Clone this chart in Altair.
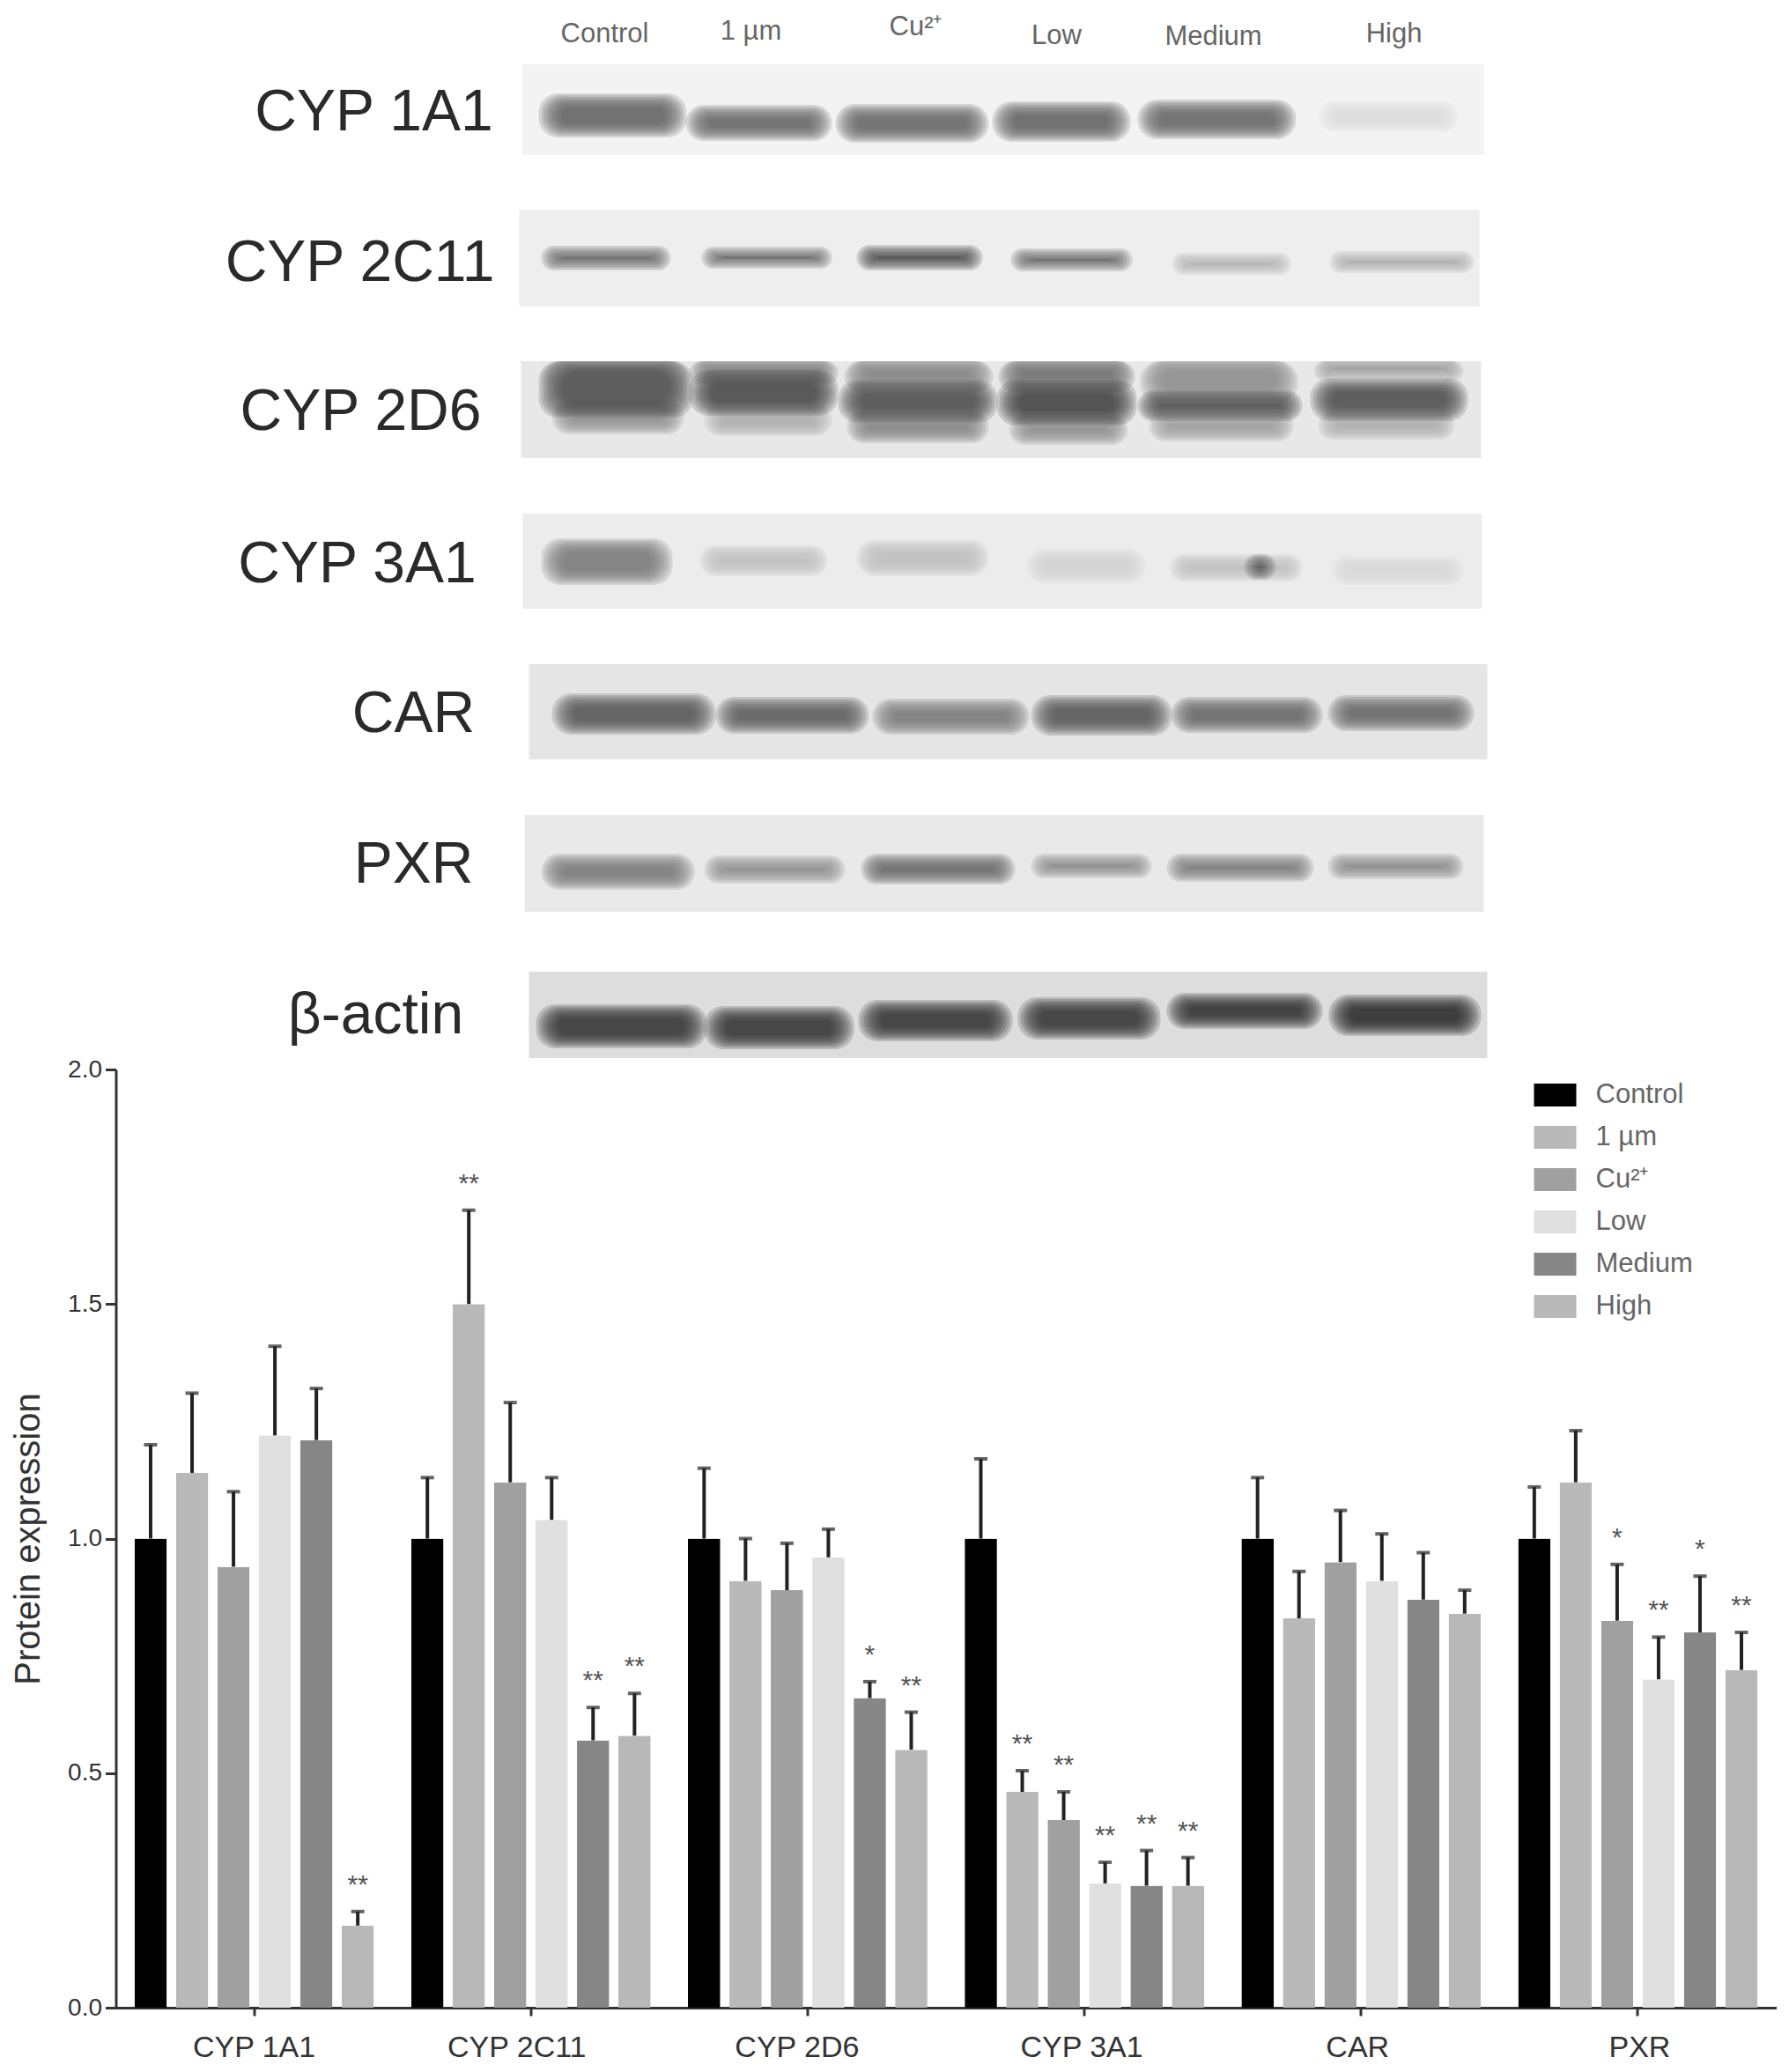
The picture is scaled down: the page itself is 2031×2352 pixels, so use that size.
import altair as alt
import pandas as pd

FONT = "Liberation Sans"

# ---- bar chart values ----
groups = ["CYP 1A1", "CYP 2C11", "CYP 2D6", "CYP 3A1", "CAR", "PXR"]
treatments = ["Control", "1 µm", "Cu²⁺", "Low", "Medium", "High"]
shades = ["#000000", "#b9b9b9", "#a0a0a0", "#e0e0e0", "#868686", "#b8b8b8"]

means = [
    [1.00, 1.14, 0.94, 1.22, 1.21, 0.175],
    [1.00, 1.50, 1.12, 1.04, 0.57, 0.58],
    [1.00, 0.91, 0.89, 0.96, 0.66, 0.55],
    [1.00, 0.46, 0.40, 0.265, 0.26, 0.26],
    [1.00, 0.83, 0.95, 0.91, 0.87, 0.84],
    [1.00, 1.12, 0.825, 0.70, 0.80, 0.72],
]
tops = [
    [1.20, 1.31, 1.10, 1.41, 1.32, 0.205],
    [1.13, 1.70, 1.29, 1.13, 0.64, 0.67],
    [1.15, 1.00, 0.99, 1.02, 0.695, 0.63],
    [1.17, 0.505, 0.46, 0.31, 0.335, 0.32],
    [1.13, 0.93, 1.06, 1.01, 0.97, 0.89],
    [1.11, 1.23, 0.945, 0.79, 0.92, 0.80],
]
stars = [
    ["", "", "", "", "", "**"],
    ["", "**", "", "", "**", "**"],
    ["", "", "", "", "*", "**"],
    ["", "**", "**", "**", "**", "**"],
    ["", "", "", "", "", ""],
    ["", "", "*", "**", "*", "**"],
]

# ---- blot image content (image pixel units) ----
row_names = ["CYP 1A1", "CYP 2C11", "CYP 2D6", "CYP 3A1", "CAR", "PXR", "β-actin"]
row_name_x = [425, 409, 410, 406, 470, 470, 427]
row_name_y = [128, 299, 468, 641, 811, 982, 1153]

panel_x0 = [593, 590, 592, 594, 601, 596, 601]
panel_x1 = [1685, 1680, 1682, 1683, 1689, 1685, 1689]
panel_y0 = [73, 238, 410, 583, 754, 925, 1103]
panel_y1 = [176, 348, 520, 691, 862, 1035, 1201]
panel_shade = ["#f3f3f3", "#eeeeee", "#e8e8e8", "#ececec", "#e5e5e5", "#e9e9e9", "#dddddd"]

lane_names = ["Control", "1 µm", "Cu²⁺", "Low", "Medium", "High"]
lane_x = [687, 853, 1040, 1200, 1378, 1583]
lane_y = [39, 36, 31, 41, 42, 39]

# row index, x0, x1, y0, y1, shade
bands = [
    (0, 620, 772, 111, 151, "#5f5f5f"), (0, 787, 937, 124, 155, "#666666"),
    (0, 957, 1115, 123, 157, "#666666"), (0, 1135, 1276, 120, 156, "#5f5f5f"),
    (0, 1300, 1464, 118, 153, "#666666"), (0, 1505, 1649, 119, 145, "#dcdcdc"),
    (1, 623, 754, 284, 302, "#666666"), (1, 805, 937, 285, 300, "#666666"),
    (1, 981, 1108, 283, 302, "#444444"), (1, 1156, 1278, 287, 303, "#666666"),
    (1, 1339, 1458, 292, 307, "#b0b0b0"), (1, 1518, 1666, 290, 305, "#aaaaaa"),
    (2, 635, 769, 459, 488, "#8a8a8a"), (2, 620, 779, 410, 469, "#4a4a4a"),
    (2, 808, 937, 463, 490, "#aaaaaa"), (2, 791, 944, 410, 432, "#777777"), (2, 791, 944, 425, 467, "#474747"),
    (2, 970, 1115, 471, 498, "#808080"), (2, 967, 1120, 410, 440, "#808080"), (2, 960, 1125, 436, 475, "#4a4a4a"),
    (2, 1154, 1273, 475, 500, "#8a8a8a"), (2, 1142, 1281, 410, 440, "#707070"), (2, 1140, 1283, 436, 478, "#3f3f3f"),
    (2, 1313, 1461, 471, 496, "#999999"), (2, 1303, 1466, 410, 452, "#8a8a8a"), (2, 1300, 1471, 448, 473, "#4a4a4a"),
    (2, 1505, 1644, 471, 494, "#aaaaaa"), (2, 1500, 1654, 410, 427, "#999999"), (2, 1496, 1659, 434, 473, "#4d4d4d"),
    (3, 623, 756, 616, 659, "#777777"), (3, 803, 932, 624, 649, "#c0c0c0"),
    (3, 981, 1115, 618, 649, "#bdbdbd"), (3, 1174, 1293, 628, 657, "#d2d2d2"),
    (3, 1337, 1471, 634, 655, "#c0c0c0"), (3, 1421, 1441, 634, 653, "#555555"),
    (3, 1520, 1654, 636, 659, "#d5d5d5"),
    (4, 635, 805, 792, 829, "#555555"), (4, 821, 979, 796, 828, "#585858"),
    (4, 999, 1161, 798, 829, "#777777"), (4, 1179, 1323, 794, 830, "#555555"),
    (4, 1338, 1494, 796, 827, "#666666"), (4, 1516, 1666, 794, 825, "#666666"),
    (5, 623, 781, 974, 1005, "#777777"), (5, 808, 952, 976, 998, "#8a8a8a"),
    (5, 986, 1145, 974, 999, "#666666"), (5, 1179, 1300, 974, 992, "#888888"),
    (5, 1333, 1484, 974, 996, "#777777"), (5, 1516, 1654, 974, 993, "#888888"),
    (6, 617, 795, 1145, 1185, "#333333"), (6, 808, 962, 1147, 1186, "#333333"),
    (6, 983, 1142, 1140, 1177, "#333333"), (6, 1164, 1310, 1137, 1175, "#333333"),
    (6, 1333, 1494, 1132, 1163, "#2f2f2f"), (6, 1517, 1674, 1134, 1171, "#2a2a2a"),
]
soft_edges = [5, 3, 1, -1, -3, -5, -7, -9, -11]

# ---- tables ----
bars = pd.DataFrame([
    {"group": g, "treatment": t, "mean": means[i][j], "top": tops[i][j], "star": stars[i][j]}
    for i, g in enumerate(groups) for j, t in enumerate(treatments)
])
panels = pd.DataFrame({"x0": panel_x0, "x1": panel_x1, "y0": panel_y0, "y1": panel_y1, "shade": panel_shade})
row_table = pd.DataFrame({"name": row_names, "x": row_name_x, "y": row_name_y})
lane_table = pd.DataFrame({"name": lane_names, "x": lane_x, "y": lane_y})

soft = []
for order, (r, x0, x1, y0, y1, shade) in enumerate(bands):
    half = (y1 - y0) / 2
    for e in soft_edges:
        ey = max(e, -half + 1.5)
        ex = e * 1.6
        soft.append({
            "order": order,
            "x0": max(x0 - ex, panel_x0[r]), "x1": min(x1 + ex, panel_x1[r]),
            "y0": max(y0 - ey, panel_y0[r]), "y1": min(y1 + ey, panel_y1[r]),
            "shade": shade,
        })
soft = pd.DataFrame(soft)

# ---- top panel: blots ----
X_DOM = alt.Scale(domain=[132, 2017])
Y_DOM = alt.Scale(domain=[1214, 8])
xq = alt.X("x0:Q", scale=X_DOM, axis=None)
yq = alt.Y("y0:Q", scale=Y_DOM, axis=None)

panel_layer = alt.Chart(panels).mark_rect().encode(
    x=xq, x2="x1:Q", y=yq, y2="y1:Q", fill=alt.Fill("shade:N", scale=None)
)
band_layer = alt.Chart(soft).mark_rect(cornerRadius=22, opacity=0.2).encode(
    x=xq, x2="x1:Q", y=yq, y2="y1:Q", fill=alt.Fill("shade:N", scale=None), order="order:Q"
)
row_text = alt.Chart(row_table).mark_text(font=FONT, fontSize=66, color="#2a2a2a").encode(
    x=alt.X("x:Q", scale=X_DOM, axis=None), y=alt.Y("y:Q", scale=Y_DOM, axis=None), text="name:N"
)
lane_text = alt.Chart(lane_table).mark_text(font=FONT, fontSize=31, color="#666666").encode(
    x=alt.X("x:Q", scale=X_DOM, axis=None), y=alt.Y("y:Q", scale=Y_DOM, axis=None), text="name:N"
)
top = alt.layer(panel_layer, band_layer, row_text, lane_text).properties(width=1885, height=1206)

# ---- bottom panel: bars ----
label_shift = (
    "datum.label === 'CYP 2C11' ? -16 : datum.label === 'CYP 2D6' ? -12 : "
    "datum.label === 'CYP 3A1' ? -3 : datum.label === 'CAR' ? -4 : "
    "datum.label === 'PXR' ? 2 : 0"
)
x_enc = alt.X(
    "group:N", sort=groups, title=None,
    scale=alt.Scale(paddingInner=0, paddingOuter=0),
    axis=alt.Axis(
        labelAngle=0, labelFont=FONT, labelFontSize=34, labelColor="#333333", labelPadding=19,
        labelOffset=alt.ExprRef(label_shift),
        domainColor="#333333", domainWidth=3, tickColor="#333333", tickWidth=3, tickSize=9, labelFlush=False,
    ),
)
off_enc = alt.XOffset(
    "treatment:N", sort=treatments,
    scale=alt.Scale(paddingInner=0.22, paddingOuter=0.45),
)
y_scale = alt.Scale(domain=[0, 2], nice=False)
y_enc = alt.Y(
    "mean:Q", scale=y_scale, title="Protein expression",
    axis=alt.Axis(
        values=[0, 0.5, 1.0, 1.5, 2.0], format=".1f", grid=False,
        labelFont=FONT, labelFontSize=28, labelColor="#333333", labelPadding=4,
        domainColor="#333333", domainWidth=3, tickColor="#333333", tickWidth=3, tickSize=12,
        titleFont=FONT, titleFontSize=40, titleFontWeight="normal", titleColor="#333333", titlePadding=24,
    ),
)
bar_layer = alt.Chart(bars).mark_bar(cornerRadius=1).encode(
    x=x_enc, xOffset=off_enc, y=y_enc,
    color=alt.Color(
        "treatment:N", sort=treatments,
        scale=alt.Scale(domain=treatments, range=shades),
        legend=alt.Legend(
            title=None, orient="none", legendX=1610, legendY=1211, padding=0, rowPadding=9,
            symbolType="M-1,-0.54H1V0.54H-1Z", symbolSize=2304, symbolStrokeWidth=0, symbolOpacity=1,
            labelFont=FONT, labelFontSize=31, labelColor="#666666", labelOffset=22,
        ),
    ),
)
err_rule = alt.Chart(bars).mark_rule(strokeWidth=4, color="#222222").encode(
    x=x_enc, xOffset=off_enc, y=alt.Y("mean:Q", scale=y_scale), y2="top:Q"
)
err_cap = alt.Chart(bars).mark_tick(size=15, thickness=4, color="#222222").encode(
    x=x_enc, xOffset=off_enc, y=alt.Y("top:Q", scale=y_scale)
)
star_text = alt.Chart(bars[bars["star"] != ""]).mark_text(
    font=FONT, fontSize=30, color="#555555", dy=-30
).encode(x=x_enc, xOffset=off_enc, y=alt.Y("top:Q", scale=y_scale), text="star:N")

bottom = alt.layer(bar_layer, err_rule, err_cap, star_text).properties(width=1885, height=1065)

chart = alt.vconcat(
    top, bottom, spacing=0, bounds="flush",
    padding={"left": 4.5, "top": 0, "right": 0, "bottom": 0},
).configure_view(stroke=None)
chart.save("out.html", embed_options={"renderer": "svg", "actions": False})
